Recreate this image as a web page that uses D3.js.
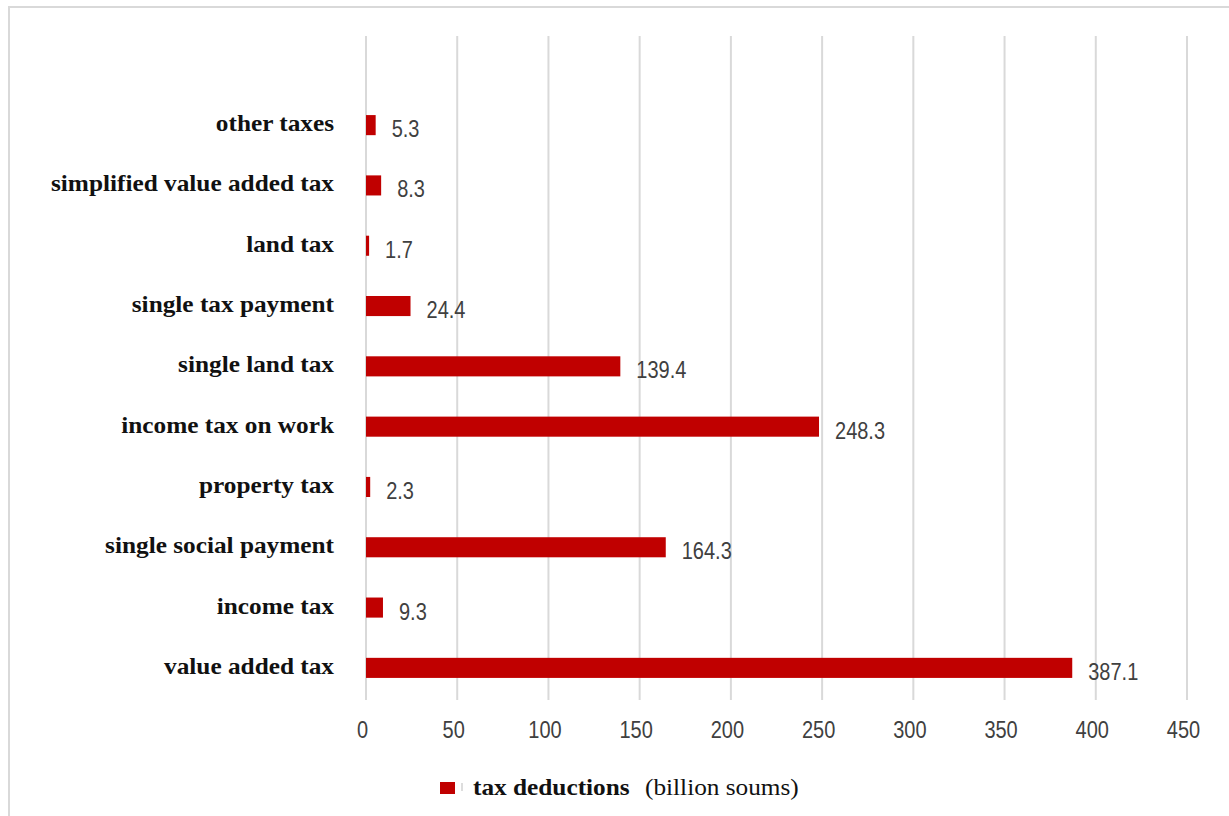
<!DOCTYPE html>
<html>
<head>
<meta charset="utf-8">
<script src="https://cdn.jsdelivr.net/npm/d3@7"></script>
<style>
  html, body { margin: 0; padding: 0; background: #fff; }
  svg { display: block; }
</style>
</head>
<body>
<svg id="chart" width="1229" height="816"></svg>
<script>
// Tax deductions by type, billion soums (top to bottom as shown)
const categories = [
  "other taxes",
  "simplified value added tax",
  "land tax",
  "single tax payment",
  "single land tax",
  "income tax on work",
  "property tax",
  "single social payment",
  "income tax",
  "value added tax"
];
const values = [5.3, 8.3, 1.7, 24.4, 139.4, 248.3, 2.3, 164.3, 9.3, 387.1];
const tickValues = [0, 50, 100, 150, 200, 250, 300, 350, 400, 450];
const seriesName = "tax deductions";
const unitLabel = "(billion soums)";

const svg = d3.select("#chart");
const W = 1229, H = 816;
const barColor = "#c00000";
const serif = "'Liberation Serif', 'Times New Roman', serif";
const sans = "'Liberation Sans', Arial, sans-serif";
const numStretch = "scale(1, 1.18)";   // tall numerals
const wordStretch = "scale(1.1, 1)";   // wide serif captions

// outer frame
svg.append("rect")
  .attr("x", 9).attr("y", 7)
  .attr("width", W + 10).attr("height", H + 10)
  .attr("fill", "#fff")
  .attr("stroke", "#d9d9d9").attr("stroke-width", 2);

const x = d3.scaleLinear().domain([0, 450]).range([366, 1187]);
const y = d3.scaleBand()
  .domain(categories)
  .range([95, 698])
  .paddingInner(0.667)
  .paddingOuter(0.333);

const gridTop = 36, gridBottom = 700;

// vertical gridlines
svg.append("g")
  .selectAll("line")
  .data(tickValues)
  .join("line")
  .attr("x1", d => x(d)).attr("x2", d => x(d))
  .attr("y1", gridTop).attr("y2", gridBottom)
  .attr("stroke", "#d9d9d9").attr("stroke-width", 2);

// x axis tick labels
const xAxis = d3.axisBottom(x).tickValues(tickValues).tickSize(0).tickPadding(0);
const axisG = svg.append("g")
  .attr("transform", `translate(-4, 0)`)
  .call(xAxis);
axisG.select(".domain").remove();
axisG.selectAll(".tick text")
  .attr("y", 0)
  .attr("dy", null)
  .attr("transform", `translate(0, 738) ${numStretch}`)
  .attr("font-family", sans)
  .attr("font-size", 20)
  .attr("fill", "#404040");

// bars
svg.append("g")
  .selectAll("rect")
  .data(categories)
  .join("rect")
  .attr("x", x(0))
  .attr("y", d => y(d))
  .attr("width", (d, i) => x(values[i]) - x(0))
  .attr("height", y.bandwidth())
  .attr("fill", barColor);

// value labels
svg.append("g")
  .selectAll("text")
  .data(categories)
  .join("text")
  .attr("transform", (d, i) =>
    `translate(${x(values[i]) + 16}, ${y(d) + y.bandwidth() / 2 + 12}) ${numStretch}`)
  .attr("font-family", sans)
  .attr("font-size", 20)
  .attr("fill", "#404040")
  .text((d, i) => d3.format(".1f")(values[i]));

// category labels
svg.append("g")
  .selectAll("text")
  .data(categories)
  .join("text")
  .attr("transform", d =>
    `translate(334, ${y(d) + y.bandwidth() / 2 + 6}) ${wordStretch}`)
  .attr("text-anchor", "end")
  .attr("font-family", serif)
  .attr("font-weight", "bold")
  .attr("font-size", 23)
  .attr("fill", "#111")
  .text(d => d);

// legend
const lg = svg.append("g");
lg.append("rect")
  .attr("x", 440).attr("y", 782)
  .attr("width", 15).attr("height", 12)
  .attr("fill", barColor);
lg.append("line")
  .attr("x1", 462).attr("x2", 462)
  .attr("y1", 783).attr("y2", 791)
  .attr("stroke", "#bbb").attr("stroke-width", 1);
lg.append("text")
  .attr("transform", `translate(473, 795) ${wordStretch}`)
  .attr("font-family", serif)
  .attr("font-weight", "bold")
  .attr("font-size", 23)
  .attr("fill", "#111")
  .text(seriesName);
lg.append("text")
  .attr("transform", `translate(645, 795) ${wordStretch}`)
  .attr("font-family", serif)
  .attr("font-size", 23)
  .attr("fill", "#111")
  .text(unitLabel);
</script>
</body>
</html>
